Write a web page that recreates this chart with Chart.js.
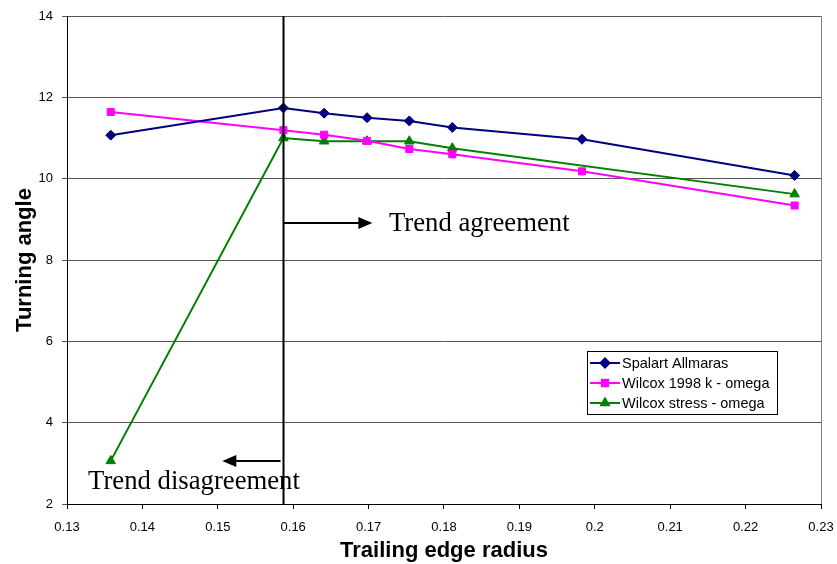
<!DOCTYPE html>
<html>
<head>
<meta charset="utf-8">
<script src="https://cdn.jsdelivr.net/npm/chart.js@4/dist/chart.umd.min.js"></script>
<style>
  html, body { margin: 0; padding: 0; background: #fff; }
  #wrap { width: 837px; height: 564px; }
</style>
</head>
<body>
<div id="wrap"><canvas id="c" width="837" height="564"></canvas></div>
<script>
// Trailing edge radius vs. turning angle for three turbulence models
const radius = [0.1358, 0.1587, 0.1641, 0.1698, 0.1754, 0.1811, 0.1983, 0.2265];
const spalart = [11.07, 11.74, 11.61, 11.50, 11.42, 11.26, 10.97, 10.08];
const wilcoxK = [11.64, 11.19, 11.08, 10.93, 10.73, 10.60, 10.18, 9.34];
const wilcoxStress = [3.06, 11.00, 10.92, 10.92, 10.92, 10.75, null, 9.62];

const seriesNames = ['Spalart Allmaras', 'Wilcox 1998 k - omega', 'Wilcox stress - omega'];
const xTitle = 'Trailing edge radius';
const yTitle = 'Turning angle';

// Annotations: divider radius and the two trend notes
const dividerX = 0.1587;
const agreeNote = { text: 'Trend agreement', y: 8.91, arrowTo: 0.1705, textX: 0.1727 };
const disagreeNote = { text: 'Trend disagreement', arrowY: 3.06, arrowTo: 0.1506, textX: 0.1328, textY: 2.54 };

const SANS = '"Liberation Sans", Arial, sans-serif';
const SERIF = '"Liberation Serif", "Times New Roman", serif';

function pts(ys) {
  const out = [];
  ys.forEach((y, i) => { if (y !== null) out.push({ x: radius[i], y: y }); });
  return out;
}

const styles = [
  { color: '#000080', shape: 'rectRot', r: 5 },
  { color: '#FF00FF', shape: 'rect', r: 5 },
  { color: '#008000', shape: 'triangle', r: 5.5 }
];
const values = [spalart, wilcoxK, wilcoxStress];

const datasets = values.map((v, i) => ({
  label: seriesNames[i],
  data: pts(v),
  showLine: true,
  borderColor: styles[i].color,
  backgroundColor: styles[i].color,
  borderWidth: 2,
  pointStyle: styles[i].shape,
  pointRadius: styles[i].r,
  pointBorderWidth: 1,
  pointBorderColor: styles[i].color,
  pointBackgroundColor: styles[i].color,
  tension: 0
}));

function arrow(ctx, x1, y, x2) {
  const dir = x2 > x1 ? 1 : -1;
  ctx.beginPath();
  ctx.moveTo(x1, y);
  ctx.lineTo(x2 - dir * 12, y);
  ctx.stroke();
  ctx.beginPath();
  ctx.moveTo(x2, y);
  ctx.lineTo(x2 - dir * 14, y - 6);
  ctx.lineTo(x2 - dir * 14, y + 6);
  ctx.closePath();
  ctx.fill();
}

const overlay = {
  id: 'overlay',
  beforeDatasetsDraw(chart) {
    const { ctx, chartArea: a } = chart;
    ctx.save();
    ctx.strokeStyle = '#808080';
    ctx.lineWidth = 1;
    ctx.beginPath();
    ctx.moveTo(Math.round(a.right) + 0.5, a.top);
    ctx.lineTo(Math.round(a.right) + 0.5, a.bottom);
    ctx.stroke();
    ctx.restore();
  },
  afterDatasetsDraw(chart) {
    const { ctx, chartArea: a, scales } = chart;
    const sx = scales.x, sy = scales.y;
    ctx.save();
    // divider line
    const dx = Math.round(sx.getPixelForValue(dividerX)) + 0.5;
    ctx.strokeStyle = '#000';
    ctx.fillStyle = '#000';
    ctx.lineWidth = 2;
    ctx.beginPath();
    ctx.moveTo(dx, a.top);
    ctx.lineTo(dx, a.bottom);
    ctx.stroke();

    // agreement arrow and note
    const ay = sy.getPixelForValue(agreeNote.y);
    arrow(ctx, dx, ay, sx.getPixelForValue(agreeNote.arrowTo));
    ctx.font = '26.7px ' + SERIF;
    ctx.textBaseline = 'middle';
    ctx.textAlign = 'left';
    ctx.fillText(agreeNote.text, sx.getPixelForValue(agreeNote.textX), ay + 1);

    // disagreement arrow and note
    const by = sy.getPixelForValue(disagreeNote.arrowY);
    arrow(ctx, dx - 3, by, sx.getPixelForValue(disagreeNote.arrowTo));
    ctx.fillText(disagreeNote.text, sx.getPixelForValue(disagreeNote.textX), sy.getPixelForValue(disagreeNote.textY));

    // legend box
    const lx = 587, ly = 351, lw = 190, lh = 63;
    ctx.fillStyle = '#fff';
    ctx.fillRect(lx, ly, lw, lh);
    ctx.strokeStyle = '#000';
    ctx.lineWidth = 1;
    ctx.strokeRect(lx + 0.5, ly + 0.5, lw, lh);
    ctx.font = '14.5px ' + SANS;
    chart.data.datasets.forEach((ds, i) => {
      const yy = ly + 12 + i * 20;
      ctx.strokeStyle = ds.borderColor;
      ctx.lineWidth = 2;
      ctx.beginPath();
      ctx.moveTo(lx + 3, yy);
      ctx.lineTo(lx + 33, yy);
      ctx.stroke();
      ctx.fillStyle = ds.borderColor;
      Chart.helpers.drawPoint(ctx, { pointStyle: ds.pointStyle, radius: 4.5, rotation: 0, borderWidth: 1 }, lx + 18, yy);
      ctx.fillStyle = '#000';
      ctx.textAlign = 'left';
      ctx.textBaseline = 'middle';
      ctx.fillText(ds.label, lx + 35, yy + 1);
    });
    ctx.restore();
  }
};

new Chart(document.getElementById('c'), {
  type: 'scatter',
  data: { datasets },
  plugins: [overlay],
  options: {
    responsive: false,
    animation: false,
    layout: { padding: { top: 16, right: 16, left: 8, bottom: 0 } },
    plugins: { legend: { display: false }, tooltip: { enabled: false } },
    scales: {
      x: {
        type: 'linear',
        min: 0.13, max: 0.23,
        afterFit(s) { s.height = 60; s.paddingLeft = 0; s.paddingRight = 0; },
        ticks: {
          stepSize: 0.01,
          color: '#000',
          font: { family: SANS, size: 13 },
          padding: 11,
          maxRotation: 0,
          autoSkip: false,
          callback: v => String(parseFloat(v.toFixed(2)))
        },
        grid: { drawOnChartArea: false, drawTicks: true, tickLength: 5, color: '#000' },
        border: { color: '#000', width: 1 },
        title: { display: true, text: xTitle, color: '#000', font: { family: SANS, size: 22, weight: 'bold', lineHeight: 0.8 }, padding: { top: 6 } }
      },
      y: {
        min: 2, max: 14,
        afterFit(s) { s.width = 59; s.paddingTop = 0; s.paddingBottom = 0; },
        ticks: {
          stepSize: 2,
          color: '#000',
          font: { family: SANS, size: 13 },
          padding: 9
        },
        grid: { color: '#555', lineWidth: 1, tickLength: 5, drawTicks: true },
        border: { color: '#000', width: 1 },
        title: { display: true, text: yTitle, color: '#000', font: { family: SANS, size: 22, weight: 'bold' }, padding: { bottom: 6 } }
      }
    }
  }
});
</script>
</body>
</html>
